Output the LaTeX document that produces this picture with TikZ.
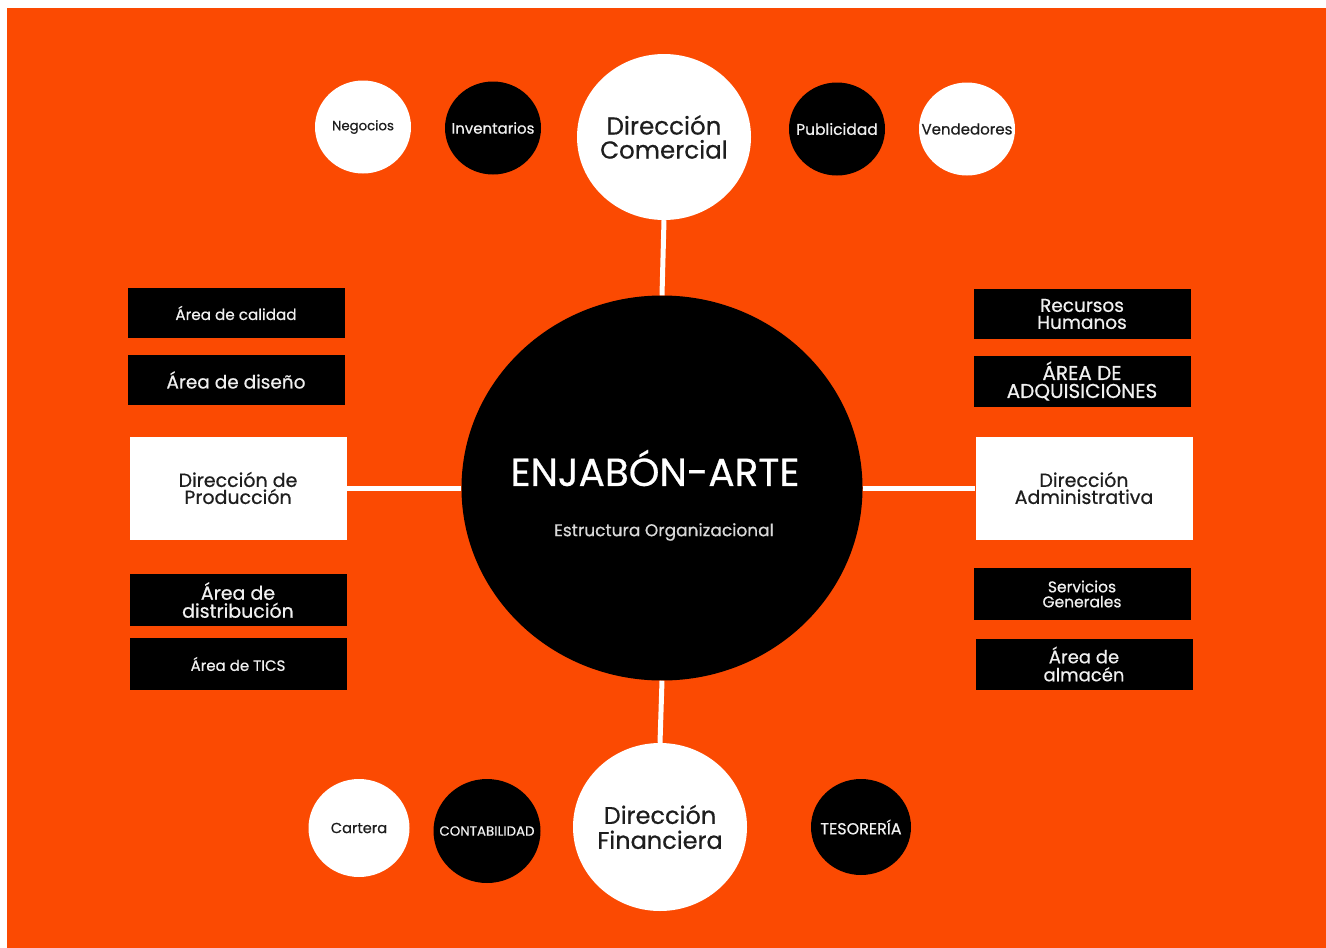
\documentclass[tikz,border=0pt]{standalone}
\usepackage{fontspec}
\setmainfont{Poppins}[FakeBold=0.6]
\usetikzlibrary{shapes.geometric}
\definecolor{fondo}{HTML}{FB4A02}
\definecolor{tinta}{HTML}{1E1E1E}
\definecolor{claro}{HTML}{F0F0F0}
\newcommand{\tam}[2]{\fontsize{#1}{#2}\selectfont}
\tikzset{
  bola/.style={ellipse, inner sep=-20pt, align=center},
  bolanegra/.style={bola, fill=black, text=claro},
  bolablanca/.style={bola, fill=white, text=tinta},
  caja/.style={rectangle, fill=black, text=claro, minimum width=217, minimum height=50, inner sep=0pt, align=center},
  cajablanca/.style={caja, fill=white, text=tinta, minimum height=103},
  enlace/.style={draw=white, line width=5}
}
\begin{document}
\begin{tikzpicture}[x=1pt, y=-1pt]
    \useasboundingbox (0,0) rectangle (1326,948);
    \fill[fondo] (7,8) rectangle (1326,948);

    \node[bolanegra, minimum width=401, minimum height=385] (centro) at (662,488) {};
    \node[text=white, font=\tam{39}{39}] (titulo) at (655,468) {ENJABÓN-ARTE};
    \node[text=white!85!black, font=\tam{17}{17}] (subtitulo) at (664,532) {Estructura Organizacional};

    \node[bolablanca, minimum width=174, minimum height=166, font=\tam{24.5}{24}] (comercial) at (664,137) {Dirección\\Comercial};
    \node[bolablanca, minimum width=174, minimum height=168, font=\tam{24}{25}] (financiera) at (660,827) {Dirección\\Financiera};
    \node[cajablanca, font=\tam{19}{17}] (produccion) at (238,488) {Dirección de\\Producción};
    \node[cajablanca, font=\tam{19}{17}] (administrativa) at (1084,488) {Dirección\\Administrativa};

    \node[bolablanca, minimum width=96, minimum height=93, font=\tam{13.3}{13}] (negocios) at (363,127) {Negocios};
    \node[bolanegra, minimum width=96, minimum height=93, font=\tam{15}{15}] (inventarios) at (493,128) {Inventarios};
    \node[bolanegra, minimum width=96, minimum height=93, font=\tam{15.5}{15}] (publicidad) at (837,129) {Publicidad};
    \node[bolablanca, minimum width=96, minimum height=93, font=\tam{15}{15}] (vendedores) at (967,129) {Vendedores};

    \node[bolablanca, minimum width=101, minimum height=98, font=\tam{14.6}{14}] (cartera) at (359,828) {Cartera};
    \node[bolanegra, minimum width=107, minimum height=104, font=\tam{13.4}{13}] (contabilidad) at (487,831) {CONTABILIDAD};
    \node[bolanegra, minimum width=100, minimum height=96, font=\tam{16}{16}] (tesoreria) at (861,827) {TESORERÍA};

    \node[caja, font=\tam{15.2}{15}] (calidad) at (236,313) {Área de calidad};
    \node[caja, font=\tam{18.5}{18}] (diseno) at (236,380) {Área de diseño};
    \node[caja, minimum height=52, font=\tam{19}{18}] (distribucion) at (238,600) {Área de\\distribución};
    \node[caja, minimum height=52, font=\tam{15}{15}] (tics) at (238,664) {Área de TICS};

    \node[caja, font=\tam{18.5}{17}] (humanos) at (1082,314) {Recursos\\Humanos};
    \node[caja, minimum height=51, font=\tam{20}{18}] (adquisiciones) at (1082,381) {ÁREA DE\\ADQUISICIONES};
    \node[caja, minimum height=52, font=\tam{15.5}{15}] (servicios) at (1082,594) {Servicios\\Generales};
    \node[caja, minimum height=51, font=\tam{18}{18}] (almacen) at (1084,664) {Área de\\almacén};

    \draw[enlace] (comercial.south) -- (centro.north);
    \draw[enlace] (centro.south) -- (financiera.north);
    \draw[enlace] (produccion) -- (centro);
    \draw[enlace] (centro) -- (administrativa);
\end{tikzpicture}
\end{document}
